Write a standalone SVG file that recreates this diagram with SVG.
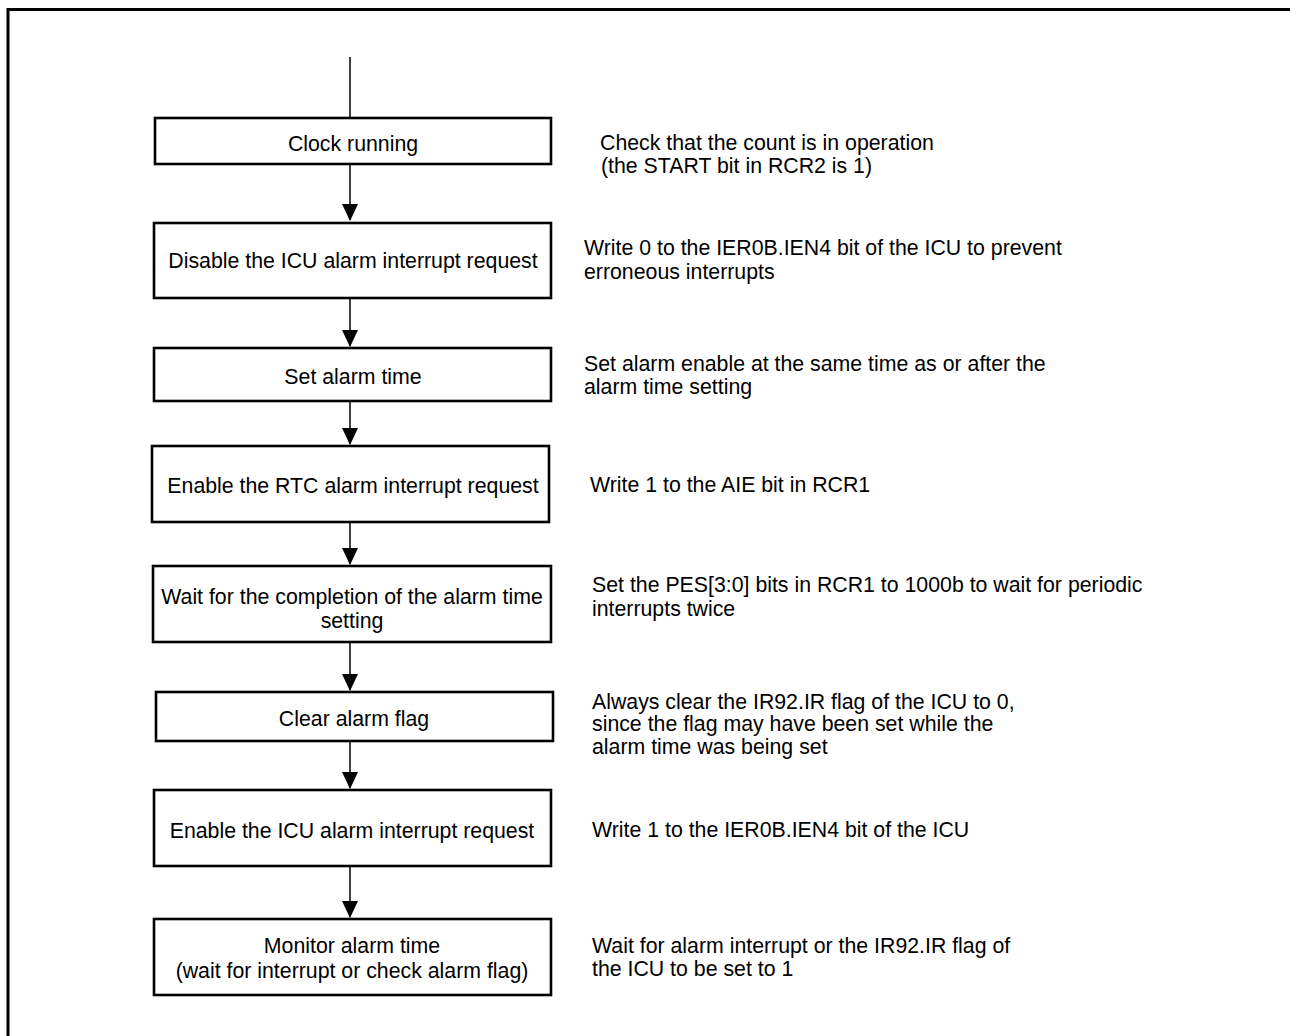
<svg xmlns="http://www.w3.org/2000/svg" width="1290" height="1036" viewBox="0 0 1290 1036">
<style>
.box{fill:#fff;stroke:#000;stroke-width:2.6}
.t{font-family:"Liberation Sans",Arial,sans-serif;font-size:21.3px;fill:#000}
.c{text-anchor:middle}
.con{stroke:#000;stroke-width:1.5;fill:none}
</style>
<defs>
<marker id="ah" markerUnits="userSpaceOnUse" markerWidth="16" markerHeight="17" refX="8" refY="16" orient="auto-start-reverse" viewBox="0 0 16 17">
<polygon points="0,0 16,0 8,16" fill="#000" transform="rotate(0)"/>
</marker>
</defs>
<rect width="1290" height="1036" fill="#fff"/>
<path d="M8,1036 V9.5 H1290" fill="none" stroke="#000" stroke-width="3"/>
<g id="connectors">
<line class="con" x1="350" y1="57" x2="350" y2="118"/>
<path class="con" d="M350,164 V220"/>
<polygon points="342,204 358,204 350,221"/>
<path class="con" d="M350,298 V346"/>
<polygon points="342,330 358,330 350,347"/>
<path class="con" d="M350,401 V444"/>
<polygon points="342,428 358,428 350,445"/>
<path class="con" d="M350,522 V564"/>
<polygon points="342,548 358,548 350,565"/>
<path class="con" d="M350,642 V690"/>
<polygon points="342,674 358,674 350,691"/>
<path class="con" d="M350,741 V788"/>
<polygon points="342,772 358,772 350,789"/>
<path class="con" d="M350,866 V917"/>
<polygon points="342,901 358,901 350,918"/>
</g>
<g id="n1"><rect class="box" x="155" y="118" width="396" height="46"/><text class="t c" x="353" y="151">Clock running</text></g>
<g id="n2"><rect class="box" x="154" y="223" width="397" height="75"/><text class="t c" x="353" y="268">Disable the ICU alarm interrupt request</text></g>
<g id="n3"><rect class="box" x="154" y="348" width="397" height="53"/><text class="t c" x="353" y="384">Set alarm time</text></g>
<g id="n4"><rect class="box" x="152" y="446" width="397" height="76"/><text class="t c" x="353" y="493">Enable the RTC alarm interrupt request</text></g>
<g id="n5"><rect class="box" x="153" y="566" width="398" height="76"/><text class="t c" x="352" y="604">Wait for the completion of the alarm time</text><text class="t c" x="352" y="628">setting</text></g>
<g id="n6"><rect class="box" x="156" y="692" width="397" height="49"/><text class="t c" x="354" y="726">Clear alarm flag</text></g>
<g id="n7"><rect class="box" x="154" y="790" width="397" height="76"/><text class="t c" x="352" y="838">Enable the ICU alarm interrupt request</text></g>
<g id="n8"><rect class="box" x="154" y="919" width="397" height="76"/><text class="t c" x="352" y="953">Monitor alarm time</text><text class="t c" x="352" y="978">(wait for interrupt or check alarm flag)</text></g>
<g id="notes">
<text class="t" x="600" y="150">Check that the count is in operation</text>
<text class="t" x="601" y="173">(the START bit in RCR2 is 1)</text>
<text class="t" x="584" y="255">Write 0 to the IER0B.IEN4 bit of the ICU to prevent</text>
<text class="t" x="584" y="279">erroneous interrupts</text>
<text class="t" x="584" y="371">Set alarm enable at the same time as or after the</text>
<text class="t" x="584" y="394">alarm time setting</text>
<text class="t" x="590" y="492">Write 1 to the AIE bit in RCR1</text>
<text class="t" x="592" y="592">Set the PES[3:0] bits in RCR1 to 1000b to wait for periodic</text>
<text class="t" x="592" y="616">interrupts twice</text>
<text class="t" x="592" y="709">Always clear the IR92.IR flag of the ICU to 0,</text>
<text class="t" x="592" y="731">since the flag may have been set while the</text>
<text class="t" x="592" y="754">alarm time was being set</text>
<text class="t" x="592" y="837">Write 1 to the IER0B.IEN4 bit of the ICU</text>
<text class="t" x="592" y="953">Wait for alarm interrupt or the IR92.IR flag of</text>
<text class="t" x="592" y="976">the ICU to be set to 1</text>
</g>
</svg>
